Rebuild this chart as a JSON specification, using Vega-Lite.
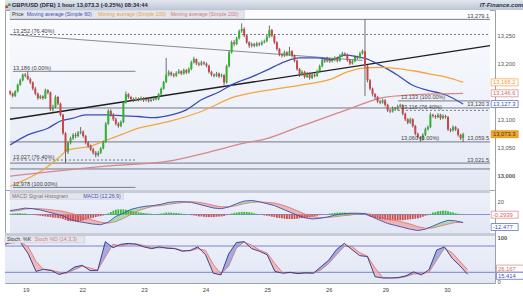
{
"$schema":"https://vega.github.io/schema/vega-lite/v6.json",
"background":"#ffffff",
"padding":{"left":2,"top":0,"right":0,"bottom":0},
"bounds":"flush",
"spacing":0,
"config":{"font":"Liberation Sans","view":{"stroke":"#9ba1ae"},"axis":{"labelFont":"Liberation Sans","labelFontSize":5.8,"labelColor":"#555555","ticks":false,"domain":false,"grid":false,"labelPadding":2},"text":{"font":"Liberation Sans","fontSize":5.6}},
"datasets":{
"bars":[
{"i":0,"o":13150,"h":13152,"l":13143,"c":13146,"hv":1},
{"i":1,"o":13146,"h":13148,"l":13139,"c":13142,"hv":1.5},
{"i":2,"o":13142,"h":13152,"l":13140,"c":13150,"hv":1.5},
{"i":3,"o":13150,"h":13164,"l":13148,"c":13162,"hv":2},
{"i":4,"o":13162,"h":13173,"l":13160,"c":13170,"hv":2},
{"i":5,"o":13170,"h":13182,"l":13168,"c":13180,"hv":1.5},
{"i":6,"o":13180,"h":13183,"l":13175,"c":13178,"hv":1.5},
{"i":7,"o":13178,"h":13186,"l":13170,"c":13172,"hv":0.5},
{"i":8,"o":13172,"h":13175,"l":13163,"c":13166,"hv":0},
{"i":9,"o":13166,"h":13168,"l":13152,"c":13155,"hv":-0.5},
{"i":10,"o":13155,"h":13158,"l":13143,"c":13146,"hv":-1},
{"i":11,"o":13146,"h":13148,"l":13135,"c":13138,"hv":-1.5},
{"i":12,"o":13138,"h":13144,"l":13136,"c":13141,"hv":-2},
{"i":13,"o":13141,"h":13143,"l":13135,"c":13138,"hv":-2.5},
{"i":14,"o":13138,"h":13155,"l":13136,"c":13152,"hv":-3},
{"i":15,"o":13152,"h":13154,"l":13145,"c":13148,"hv":-3.5},
{"i":16,"o":13148,"h":13150,"l":13115,"c":13118,"hv":-4},
{"i":17,"o":13118,"h":13126,"l":13114,"c":13122,"hv":-4.5},
{"i":18,"o":13122,"h":13143,"l":13120,"c":13140,"hv":-5},
{"i":19,"o":13140,"h":13142,"l":13125,"c":13128,"hv":-5.5},
{"i":20,"o":13128,"h":13130,"l":13105,"c":13108,"hv":-6},
{"i":21,"o":13108,"h":13110,"l":13072,"c":13075,"hv":-7},
{"i":22,"o":13075,"h":13077,"l":13022,"c":13042,"hv":-8.5},
{"i":23,"o":13042,"h":13060,"l":13038,"c":13058,"hv":-10},
{"i":24,"o":13058,"h":13069,"l":13055,"c":13066,"hv":-10.5},
{"i":25,"o":13066,"h":13075,"l":13063,"c":13072,"hv":-10.5},
{"i":26,"o":13072,"h":13076,"l":13066,"c":13070,"hv":-11},
{"i":27,"o":13070,"h":13079,"l":13068,"c":13076,"hv":-11},
{"i":28,"o":13076,"h":13086,"l":13073,"c":13078,"hv":-10},
{"i":29,"o":13078,"h":13080,"l":13067,"c":13070,"hv":-9},
{"i":30,"o":13070,"h":13072,"l":13055,"c":13058,"hv":-8},
{"i":31,"o":13058,"h":13061,"l":13049,"c":13052,"hv":-7},
{"i":32,"o":13052,"h":13055,"l":13043,"c":13046,"hv":-6},
{"i":33,"o":13046,"h":13049,"l":13037,"c":13040,"hv":-5},
{"i":34,"o":13040,"h":13043,"l":13032,"c":13036,"hv":-4},
{"i":35,"o":13036,"h":13043,"l":13033,"c":13040,"hv":-3},
{"i":36,"o":13040,"h":13050,"l":13038,"c":13048,"hv":-2.5},
{"i":37,"o":13048,"h":13062,"l":13046,"c":13060,"hv":-1.5},
{"i":38,"o":13060,"h":13095,"l":13058,"c":13092,"hv":0.5},
{"i":39,"o":13092,"h":13118,"l":13090,"c":13115,"hv":2},
{"i":40,"o":13115,"h":13118,"l":13105,"c":13108,"hv":4},
{"i":41,"o":13108,"h":13111,"l":13097,"c":13100,"hv":6},
{"i":42,"o":13100,"h":13103,"l":13089,"c":13092,"hv":7.5},
{"i":43,"o":13092,"h":13095,"l":13085,"c":13088,"hv":8},
{"i":44,"o":13088,"h":13098,"l":13086,"c":13095,"hv":8},
{"i":45,"o":13095,"h":13133,"l":13093,"c":13130,"hv":8},
{"i":46,"o":13130,"h":13150,"l":13128,"c":13145,"hv":7.5},
{"i":47,"o":13145,"h":13147,"l":13137,"c":13140,"hv":7},
{"i":48,"o":13140,"h":13142,"l":13133,"c":13136,"hv":6},
{"i":49,"o":13136,"h":13139,"l":13131,"c":13134,"hv":5},
{"i":50,"o":13134,"h":13140,"l":13132,"c":13137,"hv":4},
{"i":51,"o":13137,"h":13139,"l":13132,"c":13135,"hv":3.5},
{"i":52,"o":13135,"h":13141,"l":13133,"c":13138,"hv":3},
{"i":53,"o":13138,"h":13140,"l":13131,"c":13134,"hv":2.5},
{"i":54,"o":13134,"h":13139,"l":13132,"c":13136,"hv":2},
{"i":55,"o":13136,"h":13138,"l":13130,"c":13133,"hv":1.5},
{"i":56,"o":13133,"h":13138,"l":13131,"c":13135,"hv":1},
{"i":57,"o":13135,"h":13141,"l":13133,"c":13138,"hv":0.5},
{"i":58,"o":13138,"h":13140,"l":13134,"c":13136,"hv":0.5},
{"i":59,"o":13136,"h":13147,"l":13134,"c":13145,"hv":1},
{"i":60,"o":13145,"h":13157,"l":13143,"c":13155,"hv":1.5},
{"i":61,"o":13155,"h":13169,"l":13153,"c":13167,"hv":2},
{"i":62,"o":13167,"h":13210,"l":13165,"c":13180,"hv":3},
{"i":63,"o":13180,"h":13188,"l":13177,"c":13184,"hv":3},
{"i":64,"o":13184,"h":13186,"l":13177,"c":13180,"hv":3},
{"i":65,"o":13180,"h":13183,"l":13175,"c":13178,"hv":2.5},
{"i":66,"o":13178,"h":13186,"l":13176,"c":13183,"hv":2.5},
{"i":67,"o":13183,"h":13190,"l":13181,"c":13186,"hv":2},
{"i":68,"o":13186,"h":13188,"l":13179,"c":13182,"hv":1.5},
{"i":69,"o":13182,"h":13191,"l":13180,"c":13188,"hv":1},
{"i":70,"o":13188,"h":13190,"l":13181,"c":13184,"hv":0.5},
{"i":71,"o":13184,"h":13193,"l":13182,"c":13190,"hv":0},
{"i":72,"o":13190,"h":13205,"l":13188,"c":13202,"hv":-1},
{"i":73,"o":13202,"h":13212,"l":13200,"c":13208,"hv":-1.5},
{"i":74,"o":13208,"h":13209,"l":13197,"c":13200,"hv":-2},
{"i":75,"o":13200,"h":13203,"l":13195,"c":13198,"hv":-3},
{"i":76,"o":13198,"h":13205,"l":13196,"c":13202,"hv":-3},
{"i":77,"o":13202,"h":13204,"l":13197,"c":13200,"hv":-3.5},
{"i":78,"o":13200,"h":13202,"l":13193,"c":13196,"hv":-4},
{"i":79,"o":13196,"h":13198,"l":13182,"c":13185,"hv":-4},
{"i":80,"o":13185,"h":13187,"l":13177,"c":13180,"hv":-4},
{"i":81,"o":13180,"h":13182,"l":13175,"c":13178,"hv":-4},
{"i":82,"o":13178,"h":13185,"l":13176,"c":13182,"hv":-3.5},
{"i":83,"o":13182,"h":13184,"l":13174,"c":13177,"hv":-3},
{"i":84,"o":13177,"h":13182,"l":13175,"c":13179,"hv":-3},
{"i":85,"o":13179,"h":13181,"l":13161,"c":13166,"hv":-2.5},
{"i":86,"o":13166,"h":13198,"l":13164,"c":13195,"hv":-1},
{"i":87,"o":13195,"h":13223,"l":13193,"c":13220,"hv":0},
{"i":88,"o":13220,"h":13241,"l":13218,"c":13238,"hv":1.5},
{"i":89,"o":13238,"h":13242,"l":13231,"c":13235,"hv":2.5},
{"i":90,"o":13235,"h":13248,"l":13233,"c":13245,"hv":3},
{"i":91,"o":13245,"h":13261,"l":13243,"c":13258,"hv":3.5},
{"i":92,"o":13258,"h":13272,"l":13255,"c":13262,"hv":4},
{"i":93,"o":13262,"h":13265,"l":13247,"c":13250,"hv":4},
{"i":94,"o":13250,"h":13252,"l":13235,"c":13238,"hv":4},
{"i":95,"o":13238,"h":13240,"l":13228,"c":13232,"hv":3.5},
{"i":96,"o":13232,"h":13238,"l":13229,"c":13235,"hv":3},
{"i":97,"o":13235,"h":13237,"l":13229,"c":13232,"hv":2},
{"i":98,"o":13232,"h":13239,"l":13230,"c":13236,"hv":1},
{"i":99,"o":13236,"h":13238,"l":13231,"c":13234,"hv":0.5},
{"i":100,"o":13234,"h":13241,"l":13232,"c":13238,"hv":-0.5},
{"i":101,"o":13238,"h":13243,"l":13236,"c":13240,"hv":-1.5},
{"i":102,"o":13240,"h":13251,"l":13238,"c":13248,"hv":-2},
{"i":103,"o":13248,"h":13268,"l":13246,"c":13260,"hv":-2.5},
{"i":104,"o":13260,"h":13262,"l":13247,"c":13250,"hv":-3.5},
{"i":105,"o":13250,"h":13252,"l":13235,"c":13238,"hv":-4},
{"i":106,"o":13238,"h":13240,"l":13223,"c":13226,"hv":-5},
{"i":107,"o":13226,"h":13228,"l":13213,"c":13216,"hv":-5.5},
{"i":108,"o":13216,"h":13219,"l":13211,"c":13214,"hv":-6},
{"i":109,"o":13214,"h":13223,"l":13212,"c":13220,"hv":-6.5},
{"i":110,"o":13220,"h":13222,"l":13213,"c":13216,"hv":-7},
{"i":111,"o":13216,"h":13230,"l":13214,"c":13222,"hv":-7},
{"i":112,"o":13222,"h":13224,"l":13211,"c":13214,"hv":-7},
{"i":113,"o":13214,"h":13216,"l":13202,"c":13205,"hv":-7},
{"i":114,"o":13205,"h":13207,"l":13187,"c":13190,"hv":-6.5},
{"i":115,"o":13190,"h":13192,"l":13176,"c":13180,"hv":-6},
{"i":116,"o":13180,"h":13188,"l":13178,"c":13185,"hv":-5.5},
{"i":117,"o":13185,"h":13187,"l":13173,"c":13176,"hv":-5},
{"i":118,"o":13176,"h":13185,"l":13174,"c":13182,"hv":-4.5},
{"i":119,"o":13182,"h":13184,"l":13171,"c":13174,"hv":-4},
{"i":120,"o":13174,"h":13183,"l":13172,"c":13180,"hv":-3.5},
{"i":121,"o":13180,"h":13182,"l":13175,"c":13178,"hv":-2.5},
{"i":122,"o":13178,"h":13189,"l":13176,"c":13186,"hv":-2},
{"i":123,"o":13186,"h":13198,"l":13184,"c":13195,"hv":-1},
{"i":124,"o":13195,"h":13209,"l":13193,"c":13206,"hv":-0.5},
{"i":125,"o":13206,"h":13208,"l":13201,"c":13204,"hv":0},
{"i":126,"o":13204,"h":13212,"l":13202,"c":13208,"hv":0.5},
{"i":127,"o":13208,"h":13210,"l":13201,"c":13204,"hv":1.5},
{"i":128,"o":13204,"h":13209,"l":13202,"c":13206,"hv":2},
{"i":129,"o":13206,"h":13213,"l":13204,"c":13210,"hv":2.5},
{"i":130,"o":13210,"h":13212,"l":13202,"c":13205,"hv":3},
{"i":131,"o":13205,"h":13217,"l":13203,"c":13214,"hv":3},
{"i":132,"o":13214,"h":13221,"l":13212,"c":13218,"hv":3},
{"i":133,"o":13218,"h":13220,"l":13213,"c":13216,"hv":3},
{"i":134,"o":13216,"h":13218,"l":13203,"c":13206,"hv":2.5},
{"i":135,"o":13206,"h":13208,"l":13197,"c":13200,"hv":2.5},
{"i":136,"o":13200,"h":13207,"l":13198,"c":13204,"hv":2},
{"i":137,"o":13204,"h":13215,"l":13202,"c":13212,"hv":1.5},
{"i":138,"o":13212,"h":13214,"l":13207,"c":13210,"hv":1},
{"i":139,"o":13210,"h":13221,"l":13208,"c":13218,"hv":0.5},
{"i":140,"o":13218,"h":13225,"l":13216,"c":13222,"hv":0.5},
{"i":141,"o":13222,"h":13279.1,"l":13142,"c":13195,"hv":0},
{"i":142,"o":13195,"h":13197,"l":13166,"c":13170,"hv":-1.5},
{"i":143,"o":13170,"h":13172,"l":13152,"c":13155,"hv":-3},
{"i":144,"o":13155,"h":13157,"l":13141,"c":13145,"hv":-4},
{"i":145,"o":13145,"h":13147,"l":13136,"c":13140,"hv":-5},
{"i":146,"o":13140,"h":13142,"l":13129,"c":13132,"hv":-6},
{"i":147,"o":13132,"h":13135,"l":13127,"c":13130,"hv":-7},
{"i":148,"o":13130,"h":13137,"l":13128,"c":13134,"hv":-7.5},
{"i":149,"o":13134,"h":13136,"l":13123,"c":13126,"hv":-8},
{"i":150,"o":13126,"h":13128,"l":13113,"c":13116,"hv":-8.5},
{"i":151,"o":13116,"h":13119,"l":13111,"c":13114,"hv":-9},
{"i":152,"o":13114,"h":13123,"l":13112,"c":13120,"hv":-9},
{"i":153,"o":13120,"h":13122,"l":13115,"c":13118,"hv":-9},
{"i":154,"o":13118,"h":13126,"l":13116,"c":13123,"hv":-9},
{"i":155,"o":13123,"h":13128,"l":13121,"c":13125,"hv":-9},
{"i":156,"o":13125,"h":13127,"l":13107,"c":13110,"hv":-9},
{"i":157,"o":13110,"h":13112,"l":13097,"c":13100,"hv":-8.5},
{"i":158,"o":13100,"h":13102,"l":13091,"c":13094,"hv":-8},
{"i":159,"o":13094,"h":13103,"l":13092,"c":13100,"hv":-7.5},
{"i":160,"o":13100,"h":13102,"l":13085,"c":13088,"hv":-7},
{"i":161,"o":13088,"h":13090,"l":13071,"c":13074,"hv":-6.5},
{"i":162,"o":13074,"h":13076,"l":13065,"c":13068,"hv":-6},
{"i":163,"o":13068,"h":13070,"l":13060,"c":13064,"hv":-5},
{"i":164,"o":13064,"h":13075,"l":13062,"c":13072,"hv":-3.5},
{"i":165,"o":13072,"h":13085,"l":13070,"c":13082,"hv":-2},
{"i":166,"o":13082,"h":13089,"l":13080,"c":13086,"hv":-1},
{"i":167,"o":13086,"h":13112,"l":13084,"c":13108,"hv":1},
{"i":168,"o":13108,"h":13110,"l":13103,"c":13106,"hv":3},
{"i":169,"o":13106,"h":13108,"l":13101,"c":13104,"hv":4},
{"i":170,"o":13104,"h":13111,"l":13102,"c":13108,"hv":5},
{"i":171,"o":13108,"h":13110,"l":13099,"c":13102,"hv":5.5},
{"i":172,"o":13102,"h":13109,"l":13100,"c":13106,"hv":6},
{"i":173,"o":13106,"h":13108,"l":13101,"c":13104,"hv":6},
{"i":174,"o":13104,"h":13106,"l":13079,"c":13082,"hv":5},
{"i":175,"o":13082,"h":13084,"l":13077,"c":13080,"hv":4},
{"i":176,"o":13080,"h":13089,"l":13078,"c":13086,"hv":3},
{"i":177,"o":13086,"h":13088,"l":13079,"c":13082,"hv":2},
{"i":178,"o":13082,"h":13084,"l":13069,"c":13072,"hv":1},
{"i":179,"o":13072,"h":13074,"l":13063,"c":13066,"hv":0},
{"i":180,"o":13066,"h":13076,"l":13059.5,"c":13073.3,"hv":-0.29}
],
"ma":[
{"i":0,"v":13054,"s":"60"},{"i":7,"v":13072,"s":"60"},{"i":15,"v":13084,"s":"60"},{"i":20,"v":13097,"s":"60"},{"i":25,"v":13102,"s":"60"},{"i":30,"v":13108,"s":"60"},{"i":38,"v":13108,"s":"60"},{"i":45,"v":13106,"s":"60"},{"i":51,"v":13105,"s":"60"},{"i":57,"v":13103,"s":"60"},{"i":64,"v":13108,"s":"60"},{"i":70,"v":13117,"s":"60"},{"i":76,"v":13135,"s":"60"},{"i":83,"v":13149,"s":"60"},{"i":89,"v":13164,"s":"60"},{"i":96,"v":13176,"s":"60"},{"i":102,"v":13188,"s":"60"},{"i":109,"v":13203,"s":"60"},{"i":115,"v":13210,"s":"60"},{"i":122,"v":13210,"s":"60"},{"i":128,"v":13207,"s":"60"},{"i":133,"v":13215,"s":"60"},{"i":138,"v":13212,"s":"60"},{"i":141,"v":13209,"s":"60"},{"i":147,"v":13197,"s":"60"},{"i":154,"v":13179,"s":"60"},{"i":160,"v":13161,"s":"60"},{"i":166,"v":13152,"s":"60"},{"i":173,"v":13144,"s":"60"},{"i":180,"v":13127.3,"s":"60"},
{"i":0,"v":12980,"s":"100"},{"i":13,"v":13009,"s":"100"},{"i":19,"v":13030,"s":"100"},{"i":23,"v":13045,"s":"100"},{"i":32,"v":13052,"s":"100"},{"i":38,"v":13062,"s":"100"},{"i":45,"v":13074,"s":"100"},{"i":51,"v":13084,"s":"100"},{"i":57,"v":13090,"s":"100"},{"i":64,"v":13097,"s":"100"},{"i":76,"v":13114,"s":"100"},{"i":89,"v":13140,"s":"100"},{"i":102,"v":13152,"s":"100"},{"i":115,"v":13161,"s":"100"},{"i":128,"v":13173,"s":"100"},{"i":134,"v":13185,"s":"100"},{"i":141,"v":13192,"s":"100"},{"i":147,"v":13193,"s":"100"},{"i":154,"v":13191,"s":"100"},{"i":160,"v":13187,"s":"100"},{"i":166,"v":13182,"s":"100"},{"i":173,"v":13176,"s":"100"},{"i":180,"v":13166.2,"s":"100"},
{"i":0,"v":12998,"s":"200"},{"i":38,"v":13016,"s":"200"},{"i":63,"v":13025,"s":"200"},{"i":77,"v":13039,"s":"200"},{"i":96,"v":13060,"s":"200"},{"i":100,"v":13063,"s":"200"},{"i":115,"v":13087,"s":"200"},{"i":130,"v":13111,"s":"200"},{"i":141,"v":13129,"s":"200"},{"i":147,"v":13138,"s":"200"},{"i":160,"v":13144,"s":"200"},{"i":180,"v":13146.6,"s":"200"}
],
"tr":[
{"i":-0.06,"v":13100,"g":"k"},{"i":190.68,"v":13232,"g":"k"},
{"i":-0.06,"v":13252,"g":"g"},{"i":140,"v":13205.5,"g":"g"}
],
"lev":[
{"v":13279.1,"a":-0.06,"b":190.68,"s":"solid"},
{"v":13252,"a":-0.06,"b":190.68,"s":"dash"},
{"v":13186,"a":1.1,"b":49.8,"s":"solid"},
{"v":13120.3,"a":-0.06,"b":190.68,"s":"solid"},
{"v":13059.5,"a":-0.06,"b":190.68,"s":"solid"},
{"v":13027,"a":1.1,"b":49.8,"s":"dash"},
{"v":13021.5,"a":-0.06,"b":190.68,"s":"solid"},
{"v":13011,"a":-0.06,"b":190.68,"s":"solid"},
{"v":12978,"a":1.1,"b":49.8,"s":"solid"},
{"v":13133,"a":154.1,"b":190.68,"s":"solid"},
{"v":13116,"a":154.1,"b":190.68,"s":"dash"}
],
"md":[
{"i":0,"m":6,"s":5,"g":1,"u":"g"},{"i":3,"m":8,"s":6,"g":1,"u":"g"},{"i":6,"m":10,"s":8.5,"g":1,"u":"g"},
{"i":6,"m":10,"s":8.5,"g":2,"u":"p"},{"i":9,"m":9,"s":9.5,"g":2,"u":"p"},{"i":12,"m":7,"s":9,"g":2,"u":"p"},{"i":15,"m":4,"s":8,"g":2,"u":"p"},{"i":18,"m":1,"s":6.5,"g":2,"u":"p"},{"i":21,"m":-2,"s":5,"g":2,"u":"p"},{"i":24,"m":-8,"s":2,"g":2,"u":"p"},{"i":27,"m":-11,"s":-1,"g":2,"u":"p"},{"i":30,"m":-13,"s":-5,"g":2,"u":"p"},{"i":33,"m":-15,"s":-9,"g":2,"u":"p"},{"i":36,"m":-16,"s":-12,"g":2,"u":"p"},{"i":39,"m":-12,"s":-13.5,"g":2,"u":"p"},
{"i":39,"m":-12,"s":-13.5,"g":3,"u":"g"},{"i":42,"m":-3,"s":-11,"g":3,"u":"g"},{"i":45,"m":2,"s":-6,"g":3,"u":"g"},{"i":48,"m":8,"s":0,"g":3,"u":"g"},{"i":51,"m":11,"s":6,"g":3,"u":"g"},{"i":54,"m":13,"s":10,"g":3,"u":"g"},{"i":57,"m":14,"s":13,"g":3,"u":"g"},{"i":60,"m":16,"s":14,"g":3,"u":"g"},{"i":63,"m":19,"s":16,"g":3,"u":"g"},{"i":66,"m":20,"s":17.5,"g":3,"u":"g"},{"i":69,"m":20,"s":19,"g":3,"u":"g"},
{"i":69,"m":20,"s":19,"g":4,"u":"p"},{"i":72,"m":19,"s":20,"g":4,"u":"p"},{"i":75,"m":16,"s":19,"g":4,"u":"p"},{"i":78,"m":13,"s":17,"g":4,"u":"p"},{"i":81,"m":10,"s":14,"g":4,"u":"p"},{"i":84,"m":9,"s":12,"g":4,"u":"p"},{"i":87,"m":12,"s":12,"g":4,"u":"p"},
{"i":87,"m":12,"s":12,"g":5,"u":"g"},{"i":90,"m":17,"s":14,"g":5,"u":"g"},{"i":93,"m":21,"s":17,"g":5,"u":"g"},{"i":96,"m":22,"s":19,"g":5,"u":"g"},{"i":99,"m":20,"s":19.5,"g":5,"u":"g"},
{"i":99,"m":20,"s":19.5,"g":6,"u":"p"},{"i":102,"m":17,"s":19,"g":6,"u":"p"},{"i":105,"m":14,"s":18,"g":6,"u":"p"},{"i":108,"m":9,"s":15,"g":6,"u":"p"},{"i":111,"m":4,"s":11,"g":6,"u":"p"},{"i":114,"m":-1,"s":6,"g":6,"u":"p"},{"i":117,"m":-5,"s":1,"g":6,"u":"p"},{"i":120,"m":-7,"s":-3,"g":6,"u":"p"},{"i":123,"m":-6,"s":-5,"g":6,"u":"p"},
{"i":123,"m":-6,"s":-5,"g":7,"u":"g"},{"i":126,"m":-4,"s":-4.5,"g":7,"u":"g"},{"i":129,"m":-1,"s":-3.5,"g":7,"u":"g"},{"i":132,"m":1,"s":-2,"g":7,"u":"g"},{"i":135,"m":2,"s":-1,"g":7,"u":"g"},{"i":138,"m":2,"s":1,"g":7,"u":"g"},{"i":141,"m":1.5,"s":1.5,"g":7,"u":"g"},
{"i":141,"m":1.5,"s":1.5,"g":8,"u":"p"},{"i":144,"m":-4,"s":0,"g":8,"u":"p"},{"i":147,"m":-9,"s":-3,"g":8,"u":"p"},{"i":150,"m":-14,"s":-6,"g":8,"u":"p"},{"i":153,"m":-17,"s":-9,"g":8,"u":"p"},{"i":156,"m":-20,"s":-12,"g":8,"u":"p"},{"i":159,"m":-23,"s":-15,"g":8,"u":"p"},{"i":162,"m":-25,"s":-19,"g":8,"u":"p"},{"i":165,"m":-23,"s":-21.5,"g":8,"u":"p"},
{"i":165,"m":-23,"s":-21.5,"g":9,"u":"g"},{"i":168,"m":-18,"s":-21,"g":9,"u":"g"},{"i":171,"m":-13,"s":-18,"g":9,"u":"g"},{"i":174,"m":-9,"s":-15,"g":9,"u":"g"},{"i":177,"m":-10,"s":-12.5,"g":9,"u":"g"},
{"i":177,"m":-10,"s":-12.5,"g":10,"u":"p"},{"i":180,"m":-12.477,"s":-12.18,"g":10,"u":"p"}
],
"st":[
{"i":0,"k":84,"d":85,"g":1,"u":"b"},{"i":3,"k":90,"d":87,"g":1,"u":"b"},
{"i":3,"k":90,"d":87,"g":2,"u":"p"},{"i":6,"k":88,"d":89,"g":2,"u":"p"},{"i":9,"k":62,"d":78,"g":2,"u":"p"},{"i":12,"k":22,"d":45,"g":2,"u":"p"},{"i":15,"k":27,"d":26,"g":2,"u":"p"},{"i":18,"k":24,"d":25,"g":2,"u":"p"},{"i":21,"k":15,"d":20,"g":2,"u":"p"},
{"i":21,"k":15,"d":20,"g":3,"u":"b"},{"i":24,"k":20,"d":18,"g":3,"u":"b"},{"i":27,"k":32,"d":26,"g":3,"u":"b"},{"i":30,"k":36,"d":34,"g":3,"u":"b"},
{"i":30,"k":36,"d":34,"g":4,"u":"p"},{"i":33,"k":24,"d":30,"g":4,"u":"p"},{"i":36,"k":24,"d":25,"g":4,"u":"p"},
{"i":36,"k":24,"d":25,"g":5,"u":"b"},{"i":39,"k":90,"d":55,"g":5,"u":"b"},{"i":42,"k":76,"d":84,"g":5,"u":"b"},
{"i":42,"k":76,"d":84,"g":6,"u":"p"},{"i":45,"k":84,"d":80,"g":6,"u":"p"},
{"i":45,"k":84,"d":80,"g":7,"u":"b"},{"i":48,"k":86,"d":84,"g":7,"u":"b"},{"i":51,"k":84,"d":85,"g":7,"u":"b"},
{"i":51,"k":84,"d":85,"g":8,"u":"p"},{"i":54,"k":78,"d":81,"g":8,"u":"p"},{"i":57,"k":74,"d":76,"g":8,"u":"p"},
{"i":57,"k":74,"d":76,"g":9,"u":"b"},{"i":60,"k":78,"d":76,"g":9,"u":"b"},{"i":63,"k":75,"d":76,"g":9,"u":"b"},
{"i":63,"k":75,"d":76,"g":10,"u":"p"},{"i":66,"k":74,"d":75,"g":10,"u":"p"},{"i":69,"k":68,"d":70,"g":10,"u":"p"},
{"i":69,"k":68,"d":70,"g":11,"u":"b"},{"i":72,"k":70,"d":69,"g":11,"u":"b"},{"i":75,"k":78,"d":74,"g":11,"u":"b"},
{"i":75,"k":78,"d":74,"g":12,"u":"p"},{"i":78,"k":60,"d":70,"g":12,"u":"p"},{"i":81,"k":18,"d":38,"g":12,"u":"p"},{"i":84,"k":14,"d":16,"g":12,"u":"p"},
{"i":84,"k":14,"d":16,"g":13,"u":"b"},{"i":87,"k":62,"d":34,"g":13,"u":"b"},{"i":90,"k":88,"d":75,"g":13,"u":"b"},{"i":93,"k":90,"d":89,"g":13,"u":"b"},
{"i":93,"k":90,"d":89,"g":14,"u":"p"},{"i":96,"k":74,"d":82,"g":14,"u":"p"},{"i":99,"k":68,"d":71,"g":14,"u":"p"},{"i":102,"k":60,"d":64,"g":14,"u":"p"},{"i":105,"k":22,"d":40,"g":14,"u":"p"},{"i":108,"k":18,"d":19,"g":14,"u":"p"},
{"i":108,"k":18,"d":19,"g":15,"u":"b"},{"i":111,"k":20,"d":19,"g":15,"u":"b"},{"i":114,"k":17,"d":18,"g":15,"u":"b"},{"i":117,"k":19,"d":18,"g":15,"u":"b"},{"i":120,"k":18,"d":18,"g":15,"u":"b"},{"i":123,"k":33,"d":26,"g":15,"u":"b"},{"i":126,"k":48,"d":40,"g":15,"u":"b"},{"i":129,"k":72,"d":60,"g":15,"u":"b"},{"i":132,"k":86,"d":79,"g":15,"u":"b"},
{"i":132,"k":86,"d":79,"g":16,"u":"p"},{"i":135,"k":72,"d":79,"g":16,"u":"p"},{"i":138,"k":58,"d":65,"g":16,"u":"p"},{"i":141,"k":56,"d":57,"g":16,"u":"p"},{"i":144,"k":10,"d":30,"g":16,"u":"p"},{"i":147,"k":7,"d":8,"g":16,"u":"p"},
{"i":147,"k":7,"d":8,"g":17,"u":"b"},{"i":150,"k":7,"d":7,"g":17,"u":"b"},{"i":153,"k":8,"d":7,"g":17,"u":"b"},{"i":156,"k":12,"d":10,"g":17,"u":"b"},{"i":159,"k":21,"d":16,"g":17,"u":"b"},
{"i":159,"k":21,"d":16,"g":18,"u":"p"},{"i":162,"k":14,"d":17,"g":18,"u":"p"},{"i":165,"k":26,"d":20,"g":18,"u":"p"},
{"i":165,"k":26,"d":20,"g":19,"u":"b"},{"i":168,"k":71,"d":48,"g":19,"u":"b"},{"i":171,"k":78,"d":75,"g":19,"u":"b"},
{"i":171,"k":78,"d":75,"g":20,"u":"p"},{"i":174,"k":52,"d":65,"g":20,"u":"p"},{"i":177,"k":35,"d":45,"g":20,"u":"p"},{"i":180,"k":15.414,"d":26.167,"g":20,"u":"p"}
]
},
"vconcat":[
{
"width":521,"height":10,
"view":{"stroke":null},
"data":{"values":[{"a":"GBP/USD (DFB)  1 hour  13,073.3 (-0.25%)  08:34:44","b":"IT-Finance.com"}]},
"layer":[
{"mark":{"type":"rect","color":{"x1":0,"y1":0,"x2":0,"y2":1,"gradient":"linear","stops":[{"offset":0,"color":"#e2e7ee"},{"offset":1,"color":"#bcc6d4"}]}},
 "encoding":{"x":{"datum":0,"type":"quantitative","scale":{"domain":[0,1]},"axis":null},"x2":{"datum":1},"y":{"datum":0,"type":"quantitative","scale":{"domain":[0,1]},"axis":null},"y2":{"datum":1}}},
{"data":{"values":[{"t":"■"}]},"mark":{"type":"text","align":"left","baseline":"middle","fontSize":5,"color":"#cc3333"},
 "encoding":{"x":{"datum":0.0,"type":"quantitative"},"y":{"datum":0.45,"type":"quantitative"},"text":{"field":"t"}}},
{"data":{"values":[{"t":"■"}]},"mark":{"type":"text","align":"left","baseline":"middle","fontSize":5,"color":"#2eaa2e"},
 "encoding":{"x":{"datum":0.005,"type":"quantitative"},"y":{"datum":0.6,"type":"quantitative"},"text":{"field":"t"}}},
{"mark":{"type":"text","align":"left","baseline":"middle","fontWeight":"bold","fontSize":5.8,"color":"#1d2840"},
 "encoding":{"x":{"datum":0.013,"type":"quantitative"},"y":{"datum":0.5,"type":"quantitative"},"text":{"field":"a"}}},
{"mark":{"type":"text","align":"right","baseline":"middle","fontWeight":"bold","fontStyle":"italic","fontSize":6,"color":"#2a3550"},
 "encoding":{"x":{"datum":0.995,"type":"quantitative"},"y":{"datum":0.5,"type":"quantitative"},"text":{"field":"b"}}}
]
},
{
"width":490,"height":180,
"view":{"stroke":"#9ba1ae"},
"resolve":{"scale":{"color":"independent","stroke":"independent"}},
"layer":[
{"data":{"values":[{}]},"mark":{"type":"rect","color":{"x1":0,"y1":0,"x2":0,"y2":1,"gradient":"linear","stops":[{"offset":0,"color":"#fbfcff"},{"offset":1,"color":"#e3e8f5"}]}},
 "encoding":{"x":{"datum":-0.06,"type":"quantitative","scale":{"domain":[-0.06,190.68],"nice":false,"zero":false},"axis":null},"x2":{"datum":190.68},
  "y":{"datum":13295.9,"type":"quantitative","scale":{"domain":[12973.3,13295.9],"nice":false,"zero":false},"axis":{"orient":"right","title":null,"values":[13000,13050,13100,13200,13250],"format":",.0f","labelFontWeight":{"condition":{"test":"datum.value==13000","value":"bold"},"value":"normal"}}},"y2":{"datum":12973.3}}},
{"data":{"name":"lev"},"mark":{"type":"rule","color":"#555a66","strokeWidth":0.8},
 "encoding":{
  "x":{"field":"a","type":"quantitative","title":null},"x2":{"field":"b"},
  "y":{"field":"v","type":"quantitative","title":null},
  "strokeDash":{"field":"s","type":"nominal","scale":{"domain":["solid","dash"],"range":[[1,0],[2,2]]},"legend":null}}},
{"data":{"name":"tr"},"mark":{"type":"line"},
 "encoding":{
  "x":{"field":"i","type":"quantitative","title":null},
  "y":{"field":"v","type":"quantitative","title":null},
  "stroke":{"field":"g","type":"nominal","scale":{"domain":["k","g"],"range":["#1e1e1e","#6e6e6e"]},"legend":null},
  "strokeWidth":{"field":"g","type":"nominal","scale":{"domain":["k","g"],"range":[1.4,0.8]},"legend":null}}},
{"data":{"name":"ma"},"mark":{"type":"line","strokeWidth":1.3,"interpolate":"monotone"},
 "encoding":{
  "x":{"field":"i","type":"quantitative","title":null},
  "y":{"field":"v","type":"quantitative","title":null},
  "color":{"field":"s","type":"nominal","scale":{"domain":["60","100","200"],"range":["#3b4db5","#f4a63c","#d98686"]},"legend":null}}},
{"data":{"name":"bars"},"mark":{"type":"rule","color":"#4a4a4a","strokeWidth":0.8},
 "encoding":{
  "x":{"field":"i","type":"quantitative","title":null},
  "y":{"field":"l","type":"quantitative","title":null},"y2":{"field":"h"}}},
{"data":{"name":"bars"},"mark":{"type":"bar","width":2},
 "encoding":{
  "x":{"field":"i","type":"quantitative","title":null},
  "y":{"field":"o","type":"quantitative","title":null},"y2":{"field":"c"},
  "color":{"condition":{"test":"datum.c>=datum.o","value":"#2eb42e"},"value":"#cc4646"}}},
{"data":{"values":[{}]},"mark":{"type":"rect","fill":"#e3e6ed","stroke":"#c3c8d2","strokeWidth":0.6},
 "encoding":{"x":{"datum":-0.06,"type":"quantitative"},"x2":{"datum":93},"y":{"datum":13295.9,"type":"quantitative"},"y2":{"datum":13280.5}}},
{"data":{"values":[{"t":"Price"}]},"mark":{"type":"text","align":"left","baseline":"middle","color":"#333333","fontSize":5.2},
 "encoding":{"x":{"datum":0.7,"type":"quantitative"},"y":{"datum":13288,"type":"quantitative"},"text":{"field":"t"}}},
{"data":{"values":[{"t":"Moving average (Simple 60)"}]},"mark":{"type":"text","align":"left","baseline":"middle","color":"#3b4db5","fontSize":5.2},
 "encoding":{"x":{"datum":6.6,"type":"quantitative"},"y":{"datum":13288,"type":"quantitative"},"text":{"field":"t"}}},
{"data":{"values":[{"t":"Moving average (Simple 100)"}]},"mark":{"type":"text","align":"left","baseline":"middle","color":"#f0a040","fontSize":5.2},
 "encoding":{"x":{"datum":35,"type":"quantitative"},"y":{"datum":13288,"type":"quantitative"},"text":{"field":"t"}}},
{"data":{"values":[{"t":"Moving average (Simple 200)"}]},"mark":{"type":"text","align":"left","baseline":"middle","color":"#d47a7a","fontSize":5.2},
 "encoding":{"x":{"datum":63.8,"type":"quantitative"},"y":{"datum":13288,"type":"quantitative"},"text":{"field":"t"}}},
{"data":{"values":[{"v":13252,"t":"13,252 (76.40%)"},{"v":13186,"t":"13,186 (0.00%)"},{"v":13027,"t":"13,027 (76.40%)"},{"v":12978,"t":"12,978 (100.00%)"}]},
 "mark":{"type":"text","align":"left","baseline":"bottom","dy":-0.5,"color":"#444444"},
 "encoding":{"x":{"datum":1.1,"type":"quantitative"},"y":{"field":"v","type":"quantitative","title":null},"text":{"field":"t"}}},
{"data":{"values":[{"v":13133,"t":"13,133 (100.00%)"},{"v":13116,"t":"13,116 (76.40%)"},{"v":13060,"t":"13,060 (0.00%)"}]},
 "mark":{"type":"text","align":"left","baseline":"bottom","dy":-0.5,"color":"#444444"},
 "encoding":{"x":{"datum":155.3,"type":"quantitative"},"y":{"field":"v","type":"quantitative","title":null},"text":{"field":"t"}}},
{"data":{"values":[{"v":13279.1,"t":"13,279.1"},{"v":13120.3,"t":"13,120.3"},{"v":13059.5,"t":"13,059.5"},{"v":13021.5,"t":"13,021.5"}]},
 "mark":{"type":"text","align":"right","baseline":"bottom","dy":-0.5,"color":"#444444"},
 "encoding":{"x":{"datum":190.3,"type":"quantitative"},"y":{"field":"v","type":"quantitative","title":null},"text":{"field":"t"}}},
{"data":{"values":[{"v":13166.2,"c":"o"},{"v":13146.6,"c":"r"},{"v":13127.3,"c":"b"}]},
 "mark":{"type":"rect","width":27,"height":7,"fill":"#ffffff","strokeWidth":0.7},
 "encoding":{"x":{"datum":196.5,"type":"quantitative"},"y":{"field":"v","type":"quantitative","title":null},
  "stroke":{"field":"c","type":"nominal","scale":{"domain":["o","r","b"],"range":["#f0a040","#d98080","#4a5fc0"]},"legend":null}}},
{"data":{"values":[{"v":13166.2,"t":"13,166.2","c":"o"},{"v":13146.6,"t":"13,146.6","c":"r"},{"v":13127.3,"t":"13,127.3","c":"b"}]},
 "mark":{"type":"text","align":"left","baseline":"middle","fontSize":5.8},
 "encoding":{"x":{"datum":191.85,"type":"quantitative"},"y":{"field":"v","type":"quantitative","title":null},"text":{"field":"t"},
  "color":{"field":"c","type":"nominal","scale":{"domain":["o","r","b"],"range":["#ee9a30","#d06868","#3a4fb0"]},"legend":null}}},
{"data":{"values":[{"v":13073.3,"t":"13,073.3"}]},
 "mark":{"type":"rect","width":27,"height":7,"fill":"#f6a828","stroke":"#d08a10","strokeWidth":0.7},
 "encoding":{"x":{"datum":196.5,"type":"quantitative"},"y":{"field":"v","type":"quantitative","title":null}}},
{"data":{"values":[{"v":13073.3,"t":"13,073.3"}]},
 "mark":{"type":"text","align":"left","baseline":"middle","fontSize":5.8,"color":"#3a3020"},
 "encoding":{"x":{"datum":191.85,"type":"quantitative"},"y":{"field":"v","type":"quantitative","title":null},"text":{"field":"t"}}}
]
},
{
"width":490,"height":43,
"view":{"stroke":"#9ba1ae"},
"resolve":{"scale":{"color":"independent"}},
"layer":[
{"data":{"values":[{}]},"mark":{"type":"rect","color":{"x1":0,"y1":0,"x2":0,"y2":1,"gradient":"linear","stops":[{"offset":0,"color":"#eef1fa"},{"offset":1,"color":"#e2e7f5"}]}},
 "encoding":{"x":{"datum":-0.06,"type":"quantitative","scale":{"domain":[-0.06,190.68],"nice":false,"zero":false},"axis":null},"x2":{"datum":190.68},
  "y":{"datum":38.3,"type":"quantitative","scale":{"domain":[-28.9,38.3],"nice":false,"zero":false},"axis":{"orient":"right","title":null,"values":[20]}},"y2":{"datum":-28.9}}},
{"data":{"values":[{}]},"mark":{"type":"rect","fill":"#c8ccd6"},
 "encoding":{"x":{"datum":-0.06,"type":"quantitative"},"x2":{"datum":190.68},"y":{"datum":38.3,"type":"quantitative"},"y2":{"datum":33.6}}},
{"data":{"values":[{}]},"mark":{"type":"rule","color":"#6d7cc4","strokeWidth":0.8},
 "encoding":{"x":{"datum":-0.06,"type":"quantitative"},"x2":{"datum":190.68},"y":{"datum":0,"type":"quantitative"}}},
{"data":{"name":"md"},"mark":{"type":"area","opacity":0.75},
 "encoding":{"x":{"field":"i","type":"quantitative","title":null},"y":{"field":"m","type":"quantitative","title":null},"y2":{"field":"s"},"detail":{"field":"g"},
  "color":{"field":"u","type":"nominal","scale":{"domain":["g","p"],"range":["#93d993","#efa3a3"]},"legend":null}}},
{"data":{"name":"bars"},"mark":{"type":"bar","width":1.8},
 "encoding":{"x":{"field":"i","type":"quantitative","title":null},"y":{"field":"hv","type":"quantitative","title":null},"y2":{"datum":0},
  "color":{"condition":{"test":"datum.hv>=0","value":"#38b838"},"value":"#d04e4a"}}},
{"data":{"name":"md"},"mark":{"type":"line","strokeWidth":0.9,"color":"#d97a7a"},
 "encoding":{"x":{"field":"i","type":"quantitative","title":null},"y":{"field":"s","type":"quantitative","title":null}}},
{"data":{"name":"md"},"mark":{"type":"line","strokeWidth":0.9,"color":"#3f4fa8"},
 "encoding":{"x":{"field":"i","type":"quantitative","title":null},"y":{"field":"m","type":"quantitative","title":null}}},
{"data":{"values":[{}]},"mark":{"type":"rect","fill":"#e3e6ed","stroke":"#c3c8d2","strokeWidth":0.6},
 "encoding":{"x":{"datum":-0.06,"type":"quantitative"},"x2":{"datum":45},"y":{"datum":33.6,"type":"quantitative"},"y2":{"datum":23.8}}},
{"data":{"values":[{"t":"MACD   Signal   Histogram"}]},"mark":{"type":"text","align":"left","baseline":"middle","color":"#8a6a6a","fontSize":5.2},
 "encoding":{"x":{"datum":0.7,"type":"quantitative"},"y":{"datum":28.7,"type":"quantitative"},"text":{"field":"t"}}},
{"data":{"values":[{"t":"MACD (12,26,9)"}]},"mark":{"type":"text","align":"left","baseline":"middle","color":"#3b4db5","fontSize":5.2},
 "encoding":{"x":{"datum":29,"type":"quantitative"},"y":{"datum":28.7,"type":"quantitative"},"text":{"field":"t"}}},
{"data":{"values":[{"v":-0.2939}]},
 "mark":{"type":"rect","width":27,"height":7,"fill":"#ffffff","stroke":"#d98080","strokeWidth":0.7},
 "encoding":{"x":{"datum":196.5,"type":"quantitative"},"y":{"field":"v","type":"quantitative","title":null}}},
{"data":{"values":[{"v":-0.2939,"t":"-0.2939"}]},
 "mark":{"type":"text","align":"left","baseline":"middle","fontSize":5.8,"color":"#d06868"},
 "encoding":{"x":{"datum":191.85,"type":"quantitative"},"y":{"field":"v","type":"quantitative","title":null},"text":{"field":"t"}}},
{"data":{"values":[{"v":-12.477}]},
 "mark":{"type":"rect","width":27,"height":7,"fill":"#ffffff","stroke":"#4a5fc0","strokeWidth":0.7,"yOffset":4.5},
 "encoding":{"x":{"datum":196.5,"type":"quantitative"},"y":{"field":"v","type":"quantitative","title":null}}},
{"data":{"values":[{"v":-12.477,"t":"-12.477"}]},
 "mark":{"type":"text","align":"left","baseline":"middle","fontSize":5.8,"color":"#3a4fb0","yOffset":4.5},
 "encoding":{"x":{"datum":191.85,"type":"quantitative"},"y":{"field":"v","type":"quantitative","title":null},"text":{"field":"t"}}}
]
},
{
"width":490,"height":50,
"view":{"stroke":"#9ba1ae"},
"resolve":{"scale":{"color":"independent"}},
"layer":[
{"data":{"values":[{}]},"mark":{"type":"rect","color":{"x1":0,"y1":0,"x2":0,"y2":1,"gradient":"linear","stops":[{"offset":0,"color":"#eef1fa"},{"offset":1,"color":"#e2e7f5"}]}},
 "encoding":{"x":{"datum":-0.06,"type":"quantitative","scale":{"domain":[-0.06,190.68],"nice":false,"zero":false},
   "axis":{"orient":"bottom","title":null,"values":[8,30,54,78,102,126,148,172],"labelPadding":3,"labelColor":"#444444","labelExpr":"datum.value==8?'19':datum.value==30?'22':datum.value==54?'23':datum.value==78?'24':datum.value==102?'25':datum.value==126?'26':datum.value==148?'29':'30'"}},"x2":{"datum":190.68},
  "y":{"datum":109.7,"type":"quantitative","scale":{"domain":[-4.4,109.7],"nice":false,"zero":false},"axis":{"orient":"right","title":null,"values":[0,50,100],"labelFontWeight":{"condition":{"test":"datum.value==100","value":"bold"},"value":"normal"}}},"y2":{"datum":-4.4}}},
{"data":{"values":[{}]},"mark":{"type":"rect","fill":"#c8ccd6"},
 "encoding":{"x":{"datum":-0.06,"type":"quantitative"},"x2":{"datum":190.68},"y":{"datum":109.7,"type":"quantitative"},"y2":{"datum":102.9}}},
{"data":{"values":[{"v":80},{"v":20}]},"mark":{"type":"rule","color":"#5b6ab8","strokeWidth":0.8},
 "encoding":{"x":{"datum":-0.06,"type":"quantitative"},"x2":{"datum":190.68},"y":{"field":"v","type":"quantitative","title":null}}},
{"data":{"name":"st"},"mark":{"type":"area","opacity":0.75},
 "encoding":{"x":{"field":"i","type":"quantitative","title":null},"y":{"field":"k","type":"quantitative","title":null},"y2":{"field":"d"},"detail":{"field":"g"},
  "color":{"field":"u","type":"nominal","scale":{"domain":["b","p"],"range":["#8896dc","#efa8a8"]},"legend":null}}},
{"data":{"name":"st"},"mark":{"type":"line","strokeWidth":0.9,"color":"#d97a7a"},
 "encoding":{"x":{"field":"i","type":"quantitative","title":null},"y":{"field":"d","type":"quantitative","title":null}}},
{"data":{"name":"st"},"mark":{"type":"line","strokeWidth":0.9,"color":"#2c347e"},
 "encoding":{"x":{"field":"i","type":"quantitative","title":null},"y":{"field":"k","type":"quantitative","title":null}}},
{"data":{"values":[{}]},"mark":{"type":"rect","fill":"#e3e6ed","stroke":"#c3c8d2","strokeWidth":0.6},
 "encoding":{"x":{"datum":-0.06,"type":"quantitative"},"x2":{"datum":31},"y":{"datum":102.9,"type":"quantitative"},"y2":{"datum":87}}},
{"data":{"values":[{"t":"Stoch. %K"}]},"mark":{"type":"text","align":"left","baseline":"middle","color":"#333333","fontSize":5.2},
 "encoding":{"x":{"datum":0.7,"type":"quantitative"},"y":{"datum":95,"type":"quantitative"},"text":{"field":"t"}}},
{"data":{"values":[{"t":"Stoch %D (14,3,3)"}]},"mark":{"type":"text","align":"left","baseline":"middle","color":"#d47a7a","fontSize":5.2},
 "encoding":{"x":{"datum":11.5,"type":"quantitative"},"y":{"datum":95,"type":"quantitative"},"text":{"field":"t"}}},
{"data":{"values":[{"v":26.167}]},
 "mark":{"type":"rect","width":27,"height":7,"fill":"#ffffff","stroke":"#d98080","strokeWidth":0.7,"yOffset":-1},
 "encoding":{"x":{"datum":196.5,"type":"quantitative"},"y":{"field":"v","type":"quantitative","title":null}}},
{"data":{"values":[{"v":26.167,"t":"26.167"}]},
 "mark":{"type":"text","align":"left","baseline":"middle","fontSize":5.8,"color":"#d06868","yOffset":-1},
 "encoding":{"x":{"datum":191.85,"type":"quantitative"},"y":{"field":"v","type":"quantitative","title":null},"text":{"field":"t"}}},
{"data":{"values":[{"v":15.414}]},
 "mark":{"type":"rect","width":27,"height":7,"fill":"#ffffff","stroke":"#4a5fc0","strokeWidth":0.7,"yOffset":1.5},
 "encoding":{"x":{"datum":196.5,"type":"quantitative"},"y":{"field":"v","type":"quantitative","title":null}}},
{"data":{"values":[{"v":15.414,"t":"15.414"}]},
 "mark":{"type":"text","align":"left","baseline":"middle","fontSize":5.8,"color":"#3a4fb0","yOffset":1.5},
 "encoding":{"x":{"datum":191.85,"type":"quantitative"},"y":{"field":"v","type":"quantitative","title":null},"text":{"field":"t"}}}
]
}
]
}
